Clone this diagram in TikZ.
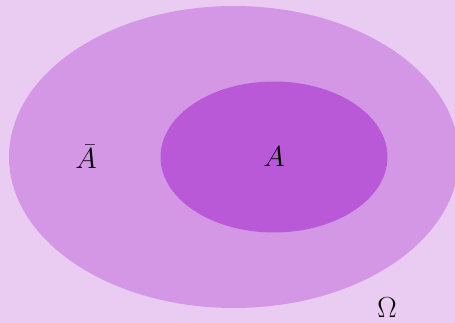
\documentclass[tikz,border=0pt]{standalone}
\usepackage{fix-cm}
\usepackage{amsmath, amssymb}
\usepackage{tikz}
\usetikzlibrary{calc}

\definecolor{omegabg}{RGB}{234,204,242}
\definecolor{abarfill}{RGB}{211,151,230}
\definecolor{afill}{RGB}{186,89,216}

\begin{document}
\begin{tikzpicture}[x=1pt, y=-1pt, lbl/.style={font=\fontsize{29}{32}\selectfont, inner sep=0pt}]
    \fill[omegabg] (0,0) rectangle (455,323);
    \useasboundingbox (0,0) rectangle (455,323);

    \coordinate (O) at (234,157);
    \coordinate (C) at (274,157);

    \fill[abarfill] (O) ellipse [x radius=225, y radius=151];
    \fill[afill] (C) ellipse [x radius=113.5, y radius=75.5];

    \node[lbl] (abar) at (86,157) {\(\bar A\)};
    \node[lbl] (a) at (274,157) {\(A\)};
    \node[lbl] (omega) at (387,308) {\(\Omega\)};
\end{tikzpicture}
\end{document}
